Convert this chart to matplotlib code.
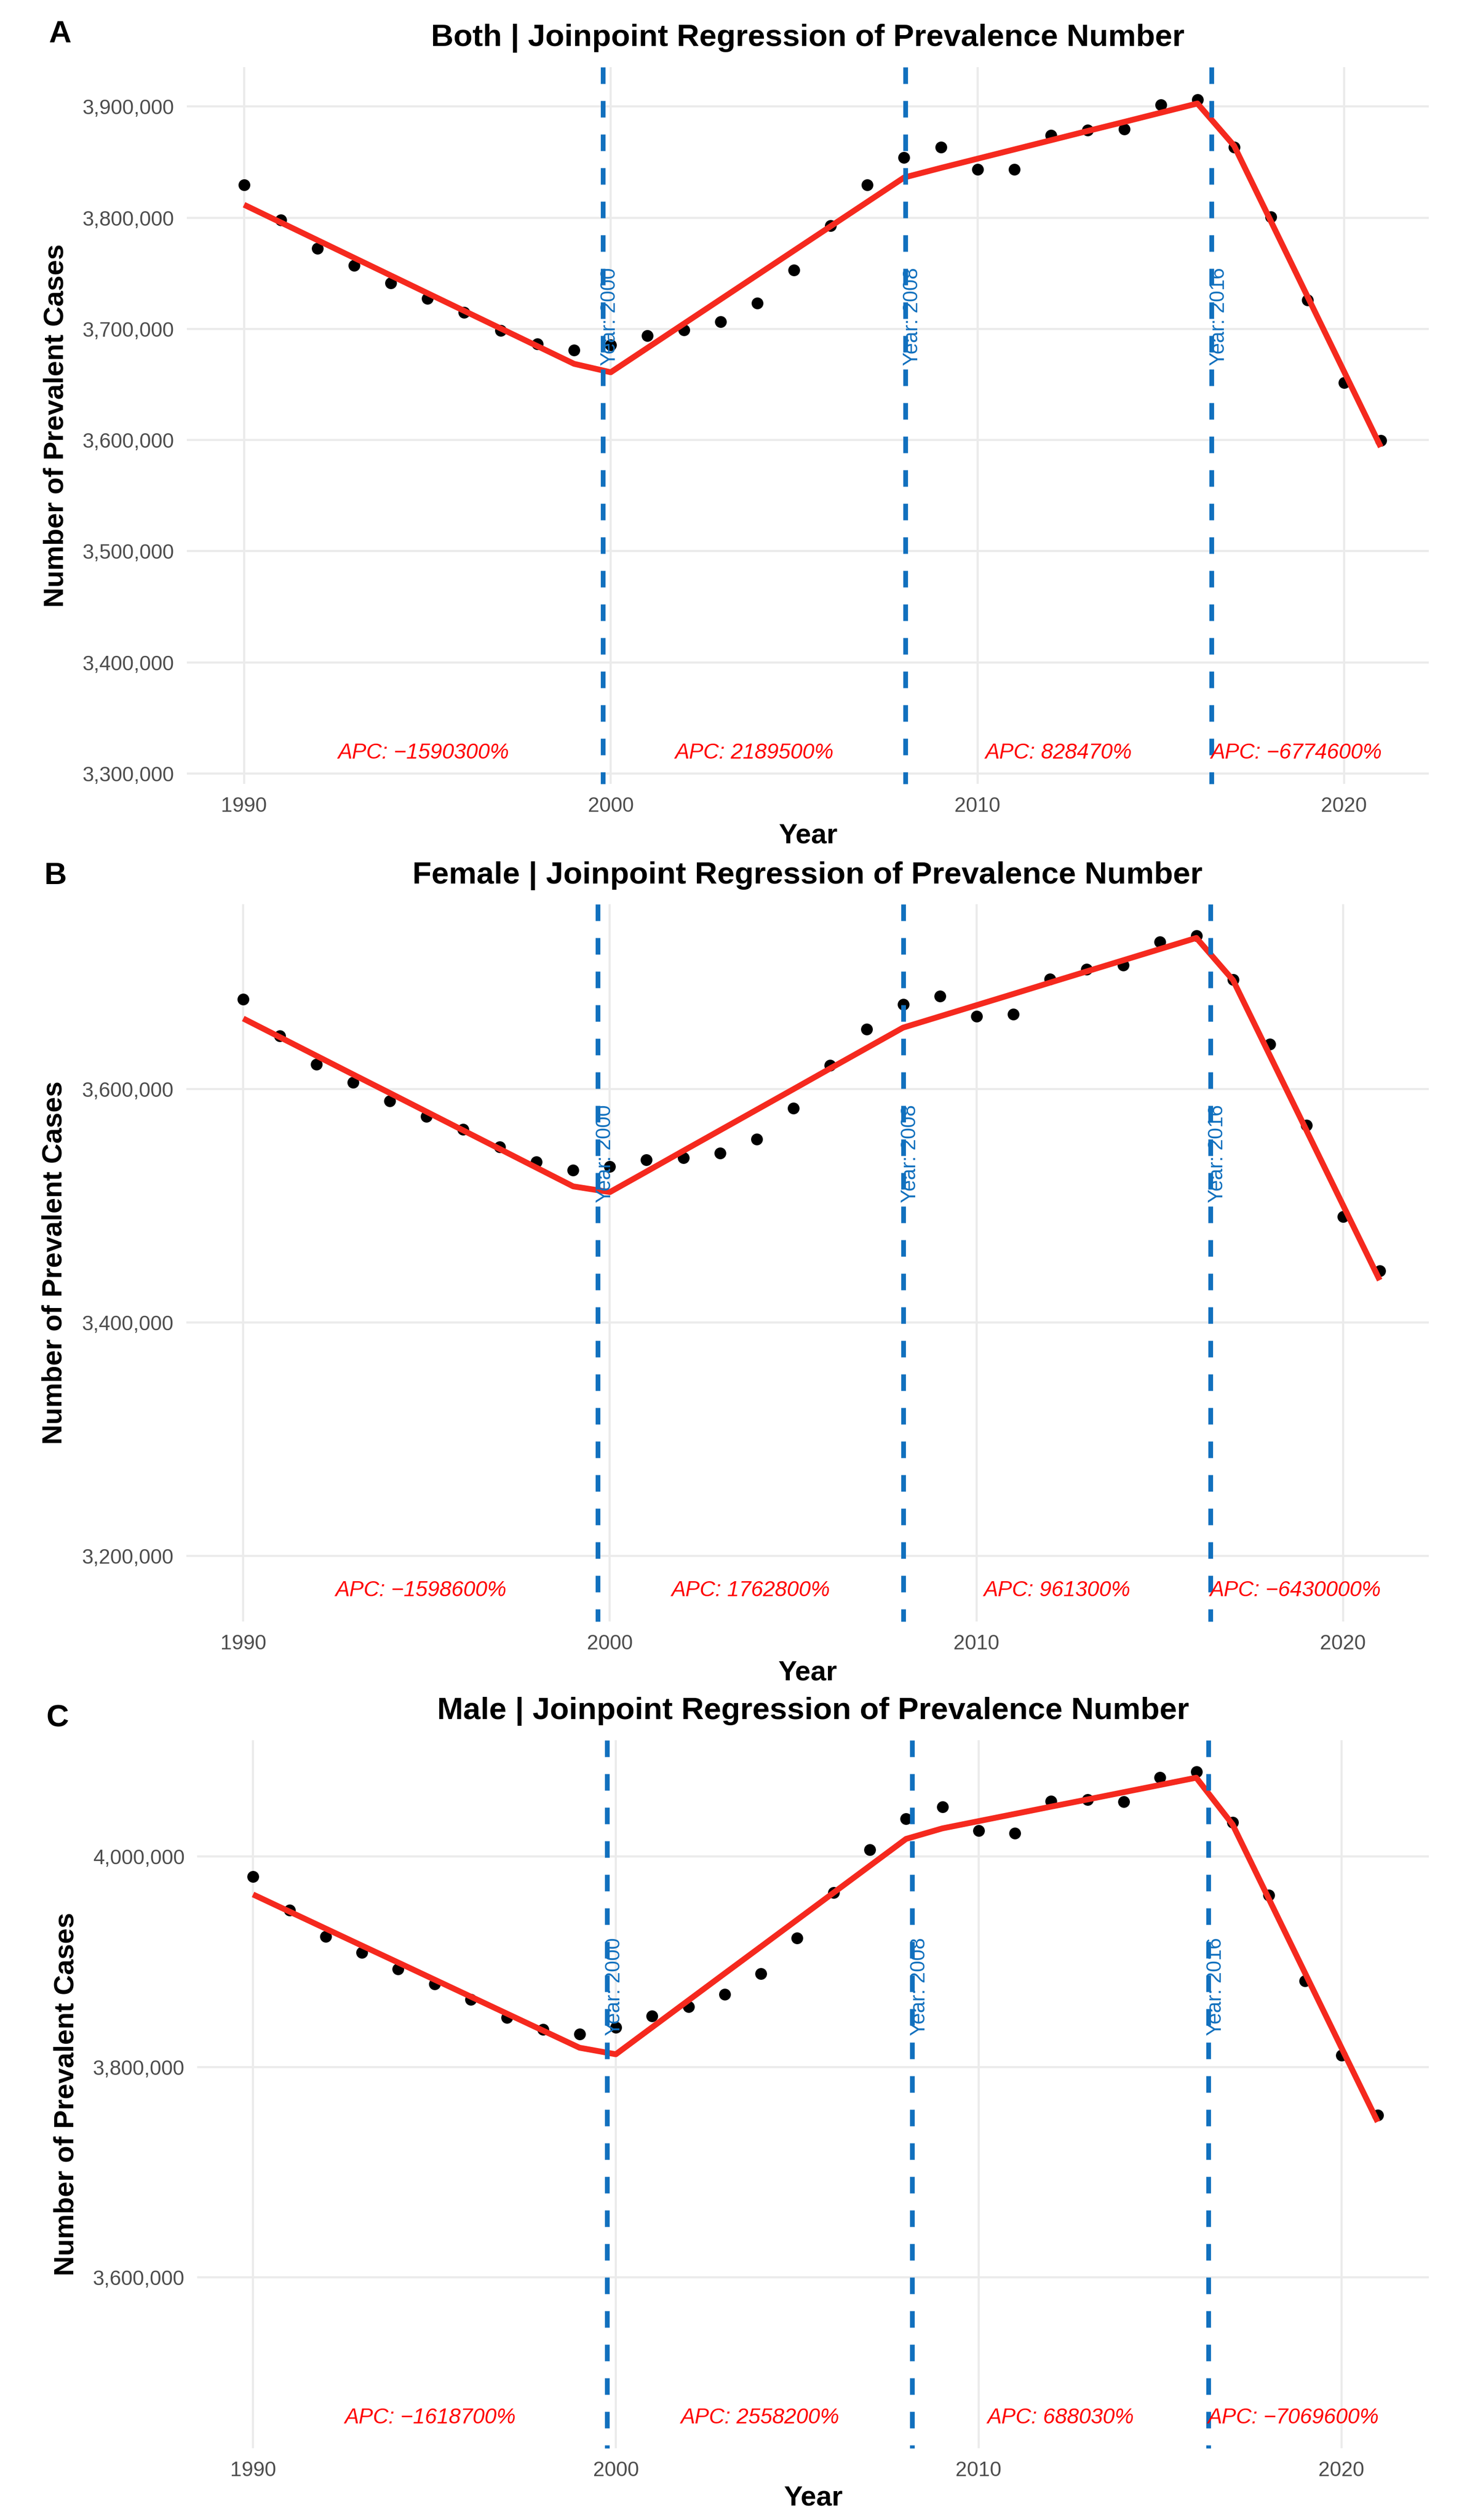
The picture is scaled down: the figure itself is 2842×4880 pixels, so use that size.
import matplotlib
matplotlib.use("Agg")
import matplotlib.pyplot as plt
import matplotlib.transforms as transforms
from matplotlib.ticker import FuncFormatter

plt.rcParams['font.family'] = ['Liberation Sans', 'DejaVu Sans']
plt.rcParams['lines.scale_dashes'] = False

#############################
### DATA
#############################
years = list(range(1990, 2022))

both_obs = [3829.5, 3798.0, 3772.6, 3757.0, 3741.3, 3727.5, 3715.0, 3698.6, 3686.5, 3680.8,
            3685.5, 3694.0, 3699.0, 3706.6, 3723.0, 3753.0, 3792.8, 3829.5, 3854.4, 3863.7,
            3843.5, 3843.3, 3874.4, 3879.0, 3879.6, 3901.4, 3906.4, 3863.7, 3801.0, 3726.0,
            3651.6, 3599.5]
both_fit = [3811.7, 3795.8, 3779.9, 3764.0, 3748.1, 3732.2, 3716.3, 3700.4, 3684.5, 3668.6,
            3661.0, 3682.9, 3704.8, 3726.7, 3748.6, 3770.5, 3792.4, 3814.3, 3836.2, 3844.8,
            3853.1, 3861.4, 3869.7, 3878.0, 3886.2, 3894.5, 3902.8, 3864.8, 3797.1, 3729.3,
            3661.6, 3593.8]

female_obs = [3677.4, 3646.0, 3621.4, 3605.9, 3590.0, 3576.8, 3565.9, 3550.6, 3537.9, 3530.7,
              3533.6, 3539.7, 3541.5, 3545.4, 3557.3, 3584.0, 3620.5, 3651.7, 3672.9, 3680.1,
              3662.5, 3664.6, 3694.6, 3702.9, 3706.3, 3726.6, 3731.6, 3693.9, 3638.6, 3569.3,
              3490.8, 3444.6]
female_fit = [3660.7, 3644.7, 3628.7, 3612.7, 3596.8, 3580.8, 3564.8, 3548.8, 3532.8, 3516.8,
              3511.9, 3529.5, 3547.2, 3564.8, 3582.4, 3600.0, 3617.7, 3635.3, 3652.9, 3662.5,
              3672.1, 3681.7, 3691.4, 3701.0, 3710.6, 3720.2, 3729.8, 3693.6, 3629.3, 3565.0,
              3500.7, 3436.4]

male_obs = [3981.0, 3948.9, 3923.8, 3908.8, 3893.0, 3878.7, 3864.2, 3846.9, 3835.4, 3831.1,
            3837.4, 3848.6, 3857.4, 3869.2, 3888.7, 3922.6, 3965.9, 4006.3, 4035.8, 4047.1,
            4024.6, 4022.1, 4052.4, 4054.1, 4051.9, 4075.2, 4080.4, 4032.6, 3963.2, 3881.7,
            3811.0, 3754.3]
male_fit = [3963.9, 3947.7, 3931.5, 3915.3, 3899.2, 3883.0, 3866.8, 3850.6, 3834.4, 3818.2,
            3812.0, 3837.6, 3863.2, 3888.8, 3914.3, 3939.9, 3965.5, 3991.1, 4016.7, 4026.7,
            4033.6, 4040.5, 4047.4, 4054.2, 4061.1, 4068.0, 4074.9, 4030.5, 3959.8, 3889.1,
            3818.4, 3747.8]

both_joinpoints = [1999.78, 2008.03, 2016.39]
female_joinpoints = [1999.67, 2008.00, 2016.38]
male_joinpoints = [1999.76, 2008.17, 2016.34]
joinpoint_labels = ["Year: 2000", "Year: 2008", "Year: 2016"]

both_apc = ["\u22121590300", "2189500", "828470", "\u22126774600"]
female_apc = ["\u22121598600", "1762800", "961300", "\u22126430000"]
male_apc = ["\u22121618700", "2558200", "688030", "\u22127069600"]

both_yticks = [3300000, 3400000, 3500000, 3600000, 3700000, 3800000, 3900000]
female_yticks = [3200000, 3400000, 3600000]
male_yticks = [3600000, 3800000, 4000000]
xticks = [1990, 2000, 2010, 2020]

#############################
### LAYOUT / STYLE
#############################
W, H = 2842, 4880
DPI = 300
RED = '#F5291E'
BLUE = '#1170BE'
GRID = '#EBEBEB'

panels = [
    dict(tag="A", name="Both", obs=both_obs, fit=both_fit, jps=both_joinpoints, apc=both_apc,
         yticks=both_yticks, ylim=(3290700, 3935500), xlim=(1988.44, 2022.31),
         rect=(362, 130, 2768, 1518), tagpos=(95, 82), title_base=89, ylab_x=109, xlab_base=1632),
    dict(tag="B", name="Female", obs=female_obs, fit=female_fit, jps=female_joinpoints, apc=female_apc,
         yticks=female_yticks, ylim=(3143800, 3758700), xlim=(1988.44, 2022.34),
         rect=(360.5, 1751, 2768, 3140), tagpos=(86, 1712), title_base=1711, ylab_x=106, xlab_base=3254),
    dict(tag="C", name="Male", obs=male_obs, fit=male_fit, jps=male_joinpoints, apc=male_apc,
         yticks=male_yticks, ylim=(3437500, 4110500), xlim=(1988.46, 2022.41),
         rect=(382, 3370, 2768, 4741), tagpos=(90, 3344), title_base=3329, ylab_x=129, xlab_base=4852),
]

fig = plt.figure(figsize=(W / DPI, H / DPI), dpi=DPI)
fig.patch.set_facecolor('white')

def fx(px):
    return px / W

def fy(py):
    return 1 - py / H

for p in panels:
    l, t, r, b = p["rect"]
    ax = fig.add_axes([fx(l), fy(b), (r - l) / W, (b - t) / H])
    ax.set_facecolor('white')

    obs = [v * 1000 for v in p["obs"]]
    fit = [v * 1000 for v in p["fit"]]

    ax.scatter(years, obs, s=30, color='black', linewidths=0, zorder=2)
    ax.plot(years, fit, color=RED, linewidth=2.7, solid_joinstyle='round',
            solid_capstyle='butt', zorder=3)

    trans = transforms.blended_transform_factory(ax.transData, ax.transAxes)
    lab_trans = trans + transforms.ScaledTranslation(0.045, 0, fig.dpi_scale_trans)
    for jp, lab in zip(p["jps"], joinpoint_labels):
        ax.plot([jp, jp], [1, 0], transform=trans, color=BLUE, linewidth=2.2,
                dashes=(7.7, 7.9), zorder=4, clip_on=False)
        ax.text(jp, 0.652, lab, transform=lab_trans, rotation=90, ha='center', va='center',
                color=BLUE, fontsize=9.5, zorder=5)

    # APC labels at the middle of each segment
    bounds = [years[0]] + p["jps"] + [years[-1]]
    for i, apc in enumerate(p["apc"]):
        mid = (bounds[i] + bounds[i + 1]) / 2.0
        ax.text(mid, 0.035, "APC: " + apc + "%", transform=trans, ha='center', va='baseline',
                color='red', fontsize=10, style='italic', zorder=5)

    ax.set_xlim(*p["xlim"])
    ax.set_ylim(*p["ylim"])
    ax.set_xticks(xticks)
    ax.set_yticks(p["yticks"])
    ax.yaxis.set_major_formatter(FuncFormatter(lambda v, pos: "{:,}".format(int(round(v)))))
    ax.tick_params(length=0, labelsize=9.6, labelcolor='#4D4D4D', pad=5.8)
    ax.grid(True, color=GRID, linewidth=1.0)
    ax.set_axisbelow(True)
    for s in ax.spines.values():
        s.set_visible(False)

    cx = (l + r) / 2.0
    cy = (t + b) / 2.0
    fig.text(fx(p["tagpos"][0]), fy(p["tagpos"][1]), p["tag"], ha='left', va='baseline',
             fontsize=14.5, fontweight='bold', color='black')
    fig.text(fx(cx), fy(p["title_base"]), p["name"] + " | Joinpoint Regression of Prevalence Number",
             ha='center', va='baseline', fontsize=14.5, fontweight='bold', color='black')
    fig.text(fx(p["ylab_x"]), fy(cy), "Number of Prevalent Cases", rotation=90,
             ha='center', va='center', fontsize=13, fontweight='bold', color='black')
    fig.text(fx(cx), fy(p["xlab_base"]), "Year", ha='center', va='baseline',
             fontsize=13, fontweight='bold', color='black')

fig.savefig("out.png", dpi=DPI, facecolor='white')
